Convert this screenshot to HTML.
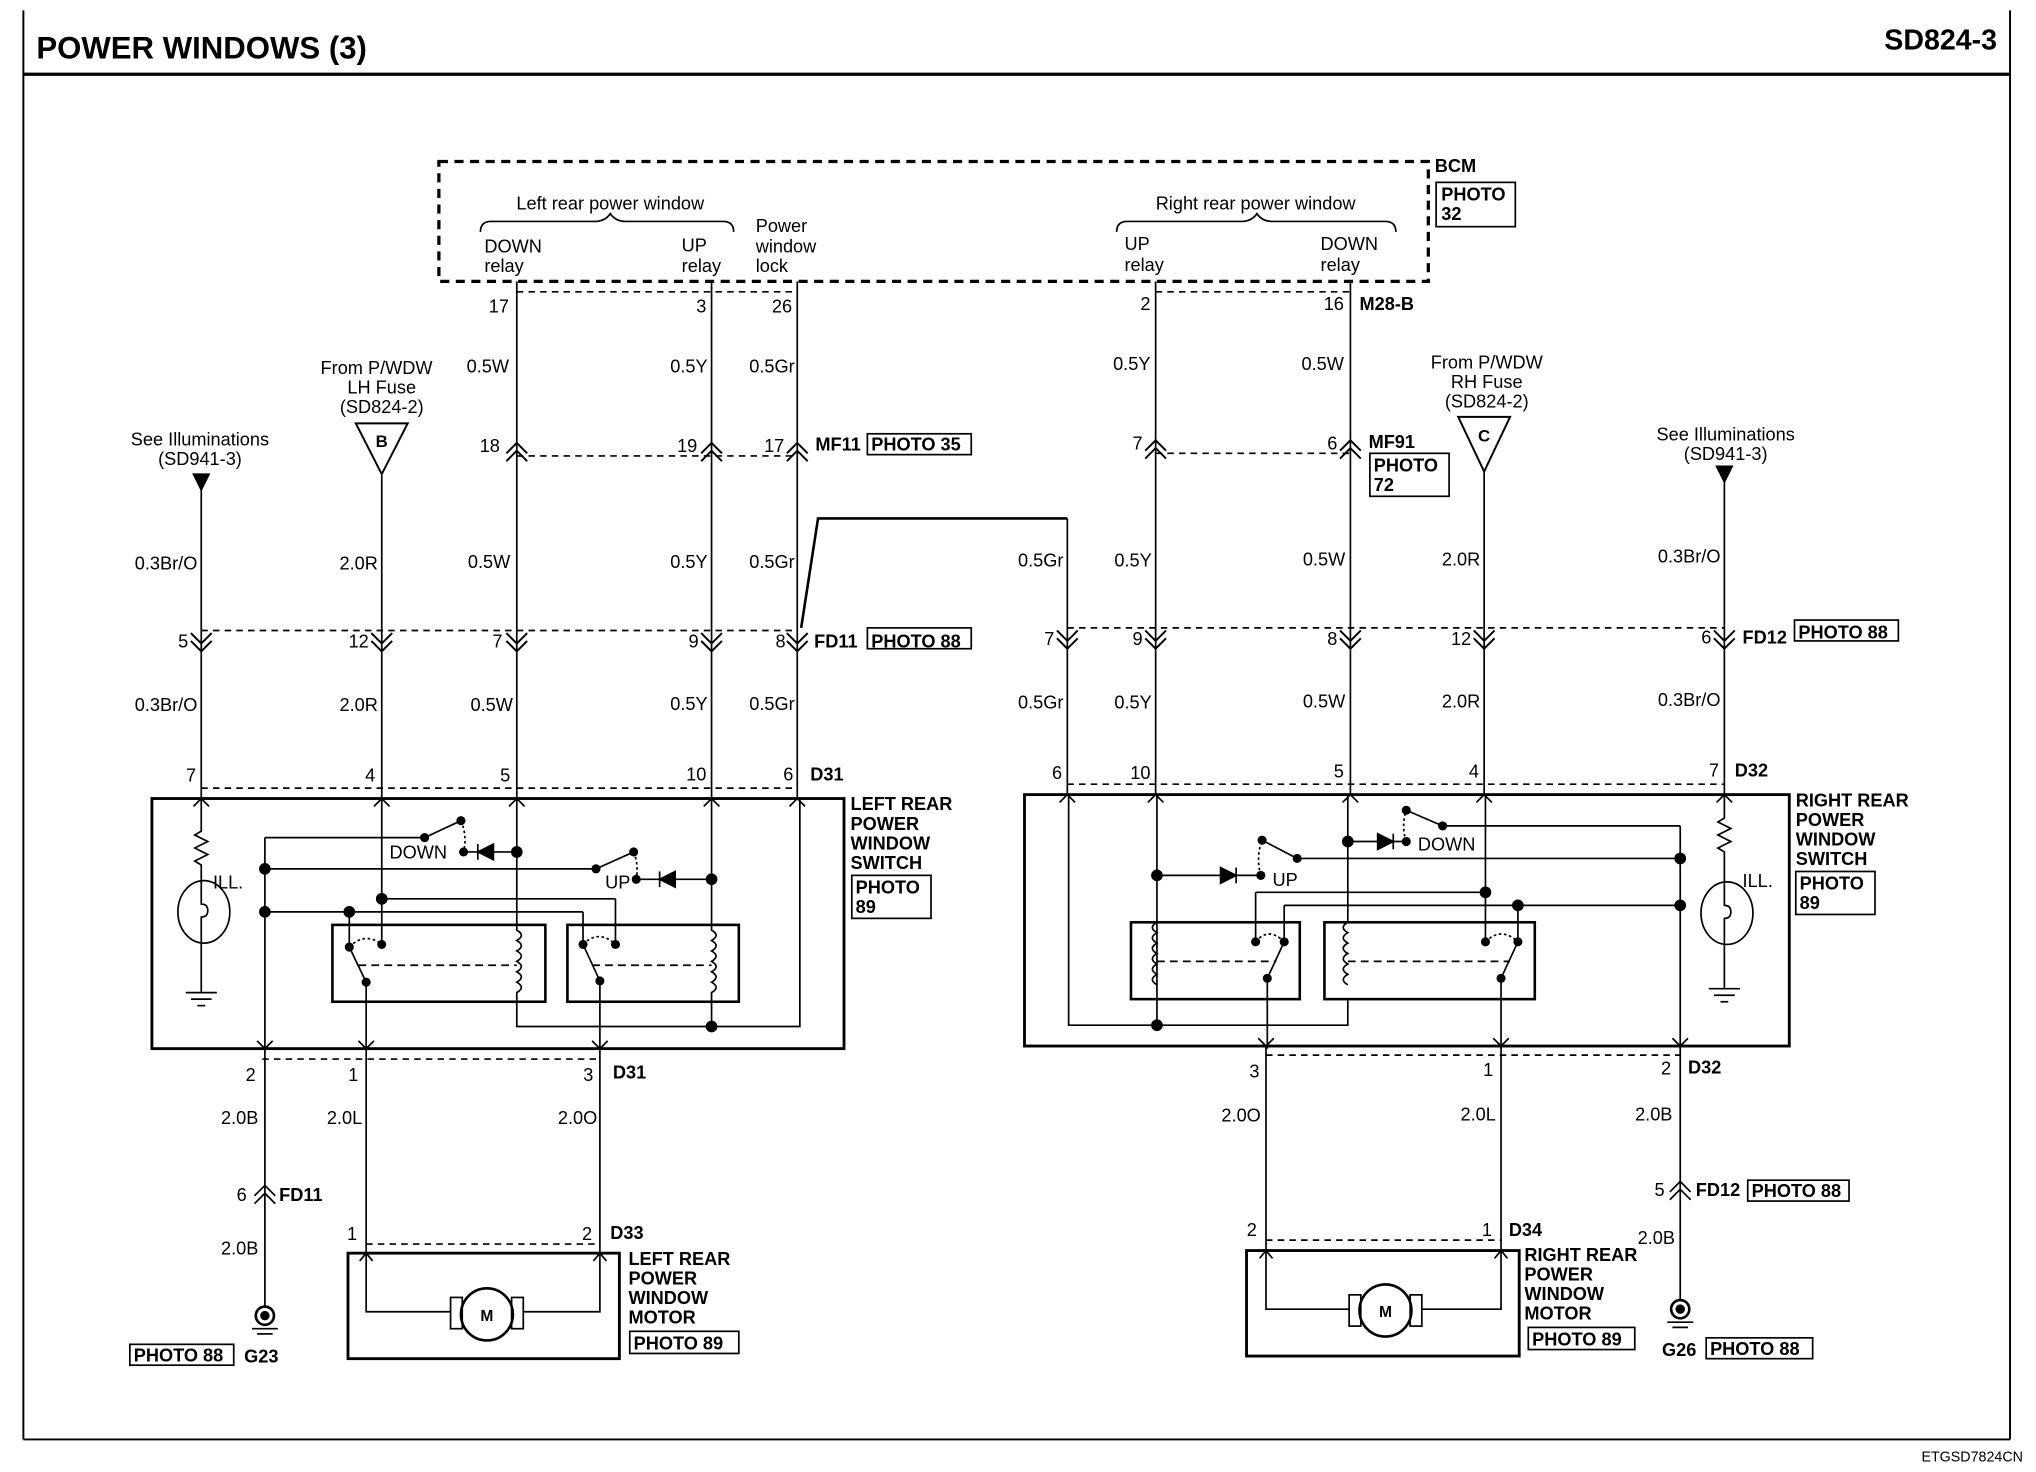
<!DOCTYPE html>
<html><head><meta charset="utf-8"><style>
html,body{margin:0;padding:0;background:#fff;}
svg{display:block;}
text{font-family:"Liberation Sans",sans-serif;fill:#000;}
</style></head><body>
<svg width="2036" height="1472" viewBox="0 0 1568 1130" preserveAspectRatio="none" xmlns="http://www.w3.org/2000/svg">
<g stroke="#000" fill="none" stroke-width="1.3">
<!-- frame -->
<line x1="18" y1="8" x2="18" y2="1105" stroke-width="1.5"/>
<line x1="18" y1="57" x2="1548" y2="57" stroke-width="2.5"/>
<line x1="18" y1="1105" x2="1548" y2="1105" stroke-width="1.5"/>
<line x1="1548" y1="8" x2="1548" y2="1105" stroke-width="1.5"/>
<!-- BCM -->
<rect x="338" y="124" width="762" height="92" stroke-dasharray="7,5" stroke-width="2.5"/>
<rect x="1106" y="140" width="61" height="34"/>
<path d="M370 178 q0 -8 8 -8 h80 q8 0 12 -6 q4 6 12 6 h75 q8 0 8 8"/>
<path d="M860 178 q0 -8 8 -8 h88 q8 0 12 -6 q4 6 12 6 h87 q8 0 8 8"/>
<line x1="398" y1="224" x2="614" y2="224" stroke-dasharray="5,4"/>
<line x1="890" y1="224" x2="1040" y2="224" stroke-dasharray="5,4"/>
<!-- left main wires -->
<line x1="398" y1="216" x2="398" y2="613"/>
<line x1="548" y1="216" x2="548" y2="613"/>
<line x1="614" y1="216" x2="614" y2="613"/>
<line x1="155" y1="372" x2="155" y2="613"/>
<line x1="294" y1="365" x2="294" y2="613"/>
<!-- right main wires -->
<line x1="890" y1="216" x2="890" y2="610"/>
<line x1="1040" y1="216" x2="1040" y2="610"/>
<line x1="822" y1="398" x2="822" y2="610"/>
<line x1="1143" y1="362" x2="1143" y2="610"/>
<line x1="1328" y1="368" x2="1328" y2="610"/>
<polyline points="617,482 630,398 822,398" stroke-width="2"/>
<path d="M149 364 L161 364 L155 376Z" fill="#000"/>
<path d="M1322 358 L1334 358 L1328 370Z" fill="#000"/>
<path d="M274 325 L314 325 L294 364Z" stroke-width="1.5"/>
<path d="M1123 320 L1163 320 L1143 362Z" stroke-width="1.5"/>
<!-- MF11 connector -->
<line x1="398" y1="350" x2="614" y2="350" stroke-dasharray="5,4"/>
<line x1="890" y1="348" x2="1040" y2="348" stroke-dasharray="5,4"/>
<g stroke-width="1.5">
<path d="M390 348 l8 -8 l8 8"/><path d="M390 354 l8 -8 l8 8"/>
<path d="M540 348 l8 -8 l8 8"/><path d="M540 354 l8 -8 l8 8"/>
<path d="M606 348 l8 -8 l8 8"/><path d="M606 354 l8 -8 l8 8"/>
<path d="M882 346 l8 -8 l8 8"/><path d="M882 352 l8 -8 l8 8"/>
<path d="M1032 346 l8 -8 l8 8"/><path d="M1032 352 l8 -8 l8 8"/>
</g>
<!-- FD connectors -->
<line x1="155" y1="484" x2="614" y2="484" stroke-dasharray="5,4"/>
<line x1="822" y1="482" x2="1328" y2="482" stroke-dasharray="5,4"/>
<g stroke-width="1.5">
<path d="M147 486 l8 8 l8 -8"/><path d="M147 492 l8 8 l8 -8"/>
<path d="M286 486 l8 8 l8 -8"/><path d="M286 492 l8 8 l8 -8"/>
<path d="M390 486 l8 8 l8 -8"/><path d="M390 492 l8 8 l8 -8"/>
<path d="M540 486 l8 8 l8 -8"/><path d="M540 492 l8 8 l8 -8"/>
<path d="M606 486 l8 8 l8 -8"/><path d="M606 492 l8 8 l8 -8"/>
<path d="M814 484 l8 8 l8 -8"/><path d="M814 490 l8 8 l8 -8"/>
<path d="M882 484 l8 8 l8 -8"/><path d="M882 490 l8 8 l8 -8"/>
<path d="M1032 484 l8 8 l8 -8"/><path d="M1032 490 l8 8 l8 -8"/>
<path d="M1135 484 l8 8 l8 -8"/><path d="M1135 490 l8 8 l8 -8"/>
<path d="M1320 484 l8 8 l8 -8"/><path d="M1320 490 l8 8 l8 -8"/>
</g>
<line x1="155" y1="605" x2="614" y2="605" stroke-dasharray="5,4"/>
<line x1="822" y1="602" x2="1328" y2="602" stroke-dasharray="5,4"/>
<g>
<path d="M149 619 l6 -6 l6 6"/><path d="M288 619 l6 -6 l6 6"/><path d="M392 619 l6 -6 l6 6"/><path d="M542 619 l6 -6 l6 6"/><path d="M608 619 l6 -6 l6 6"/>
<path d="M816 616 l6 -6 l6 6"/><path d="M884 616 l6 -6 l6 6"/><path d="M1034 616 l6 -6 l6 6"/><path d="M1137 616 l6 -6 l6 6"/><path d="M1322 616 l6 -6 l6 6"/>
</g>
<!-- switch boxes -->
<rect x="117" y="613" width="533" height="192" stroke-width="2.2"/>
<rect x="789" y="610" width="589" height="193" stroke-width="2.2"/>
<!-- LEFT internals -->
<path d="M155 613 V638 l-5 3 l10 5 l-10 5 l10 5 l-10 5 l5 3 V680"/>
<ellipse cx="157" cy="700" rx="20" ry="24"/>
<path d="M155 680 V694 q5 0 5 5 q0 5 -5 5 V762"/>
<line x1="143" y1="762" x2="167" y2="762"/><line x1="147" y1="767" x2="163" y2="767"/><line x1="152" y1="772" x2="158" y2="772"/>
<line x1="204" y1="643" x2="204" y2="805"/>
<line x1="204" y1="643" x2="327" y2="643"/>
<line x1="327" y1="643" x2="355" y2="630"/>
<path d="M355 630 q5 12 2 24" stroke-dasharray="2,2"/>
<line x1="357" y1="654" x2="398" y2="654"/>
<path d="M368 654 L380 648 L380 660Z" fill="#000"/><line x1="368" y1="648" x2="368" y2="660"/>
<line x1="204" y1="667" x2="459" y2="667"/>
<line x1="459" y1="667" x2="488" y2="654"/>
<path d="M488 654 q4 10 2 21" stroke-dasharray="2,2"/>
<line x1="490" y1="675" x2="548" y2="675"/>
<path d="M508 675 L520 669 L520 681Z" fill="#000"/><line x1="508" y1="669" x2="508" y2="681"/>
<line x1="294" y1="690" x2="474" y2="690"/><line x1="474" y1="690" x2="474" y2="725"/>
<line x1="294" y1="613" x2="294" y2="725"/>
<line x1="204" y1="700" x2="449" y2="700"/><line x1="449" y1="700" x2="449" y2="725"/>
<line x1="269" y1="700" x2="269" y2="727"/>
<rect x="256" y="710" width="164" height="59" stroke-width="2"/>
<rect x="437" y="710" width="132" height="59" stroke-width="2"/>
<path d="M269 727 l13 27 V805"/><path d="M269 727 q12 -12 25 -2" stroke-dasharray="2,2"/>
<path d="M449 725 l13 28 V805"/><path d="M449 725 q12 -12 25 0" stroke-dasharray="2,2"/>
<line x1="276" y1="741" x2="398" y2="741" stroke-dasharray="6,4"/>
<line x1="456" y1="741" x2="548" y2="741" stroke-dasharray="6,4"/>
<path d="M398 613 V714 q7 4 0 8 q7 4 0 8 q7 4 0 8 q7 4 0 8 q7 4 0 8 q7 4 0 8 V788 H616 V613"/>
<path d="M548 613 V714 q7 4 0 8 q7 4 0 8 q7 4 0 8 q7 4 0 8 q7 4 0 8 q7 4 0 8 V788"/>
<!-- RIGHT internals -->
<path d="M1328 610 V628 l-5 3 l10 5 l-10 5 l10 5 l-10 5 l5 3 V678"/>
<ellipse cx="1330" cy="701" rx="20" ry="24"/>
<path d="M1328 678 V695 q5 0 5 5 q0 5 -5 5 V759"/>
<line x1="1316" y1="759" x2="1340" y2="759"/><line x1="1320" y1="764" x2="1336" y2="764"/><line x1="1325" y1="769" x2="1331" y2="769"/>
<path d="M823 610 V787 H1038 V767"/>
<line x1="891" y1="610" x2="891" y2="787"/>
<line x1="891" y1="672" x2="971" y2="672"/>
<path d="M952 672 L940 666 L940 678Z" fill="#000"/><line x1="952" y1="666" x2="952" y2="678"/>
<path d="M971 672 q-4 -14 1 -27" stroke-dasharray="2,2"/>
<line x1="972" y1="645" x2="999" y2="659"/>
<line x1="999" y1="659" x2="1294" y2="659"/>
<line x1="1038" y1="646" x2="1083" y2="646"/>
<path d="M1073 646 L1061 640 L1061 652Z" fill="#000"/><line x1="1073" y1="640" x2="1073" y2="652"/>
<path d="M1083 646 q-4 -12 0 -24" stroke-dasharray="2,2"/>
<line x1="1083" y1="622" x2="1111" y2="634"/>
<line x1="1111" y1="634" x2="1294" y2="634"/>
<line x1="1294" y1="634" x2="1294" y2="805"/>
<line x1="1144" y1="610" x2="1144" y2="723"/>
<line x1="967" y1="685" x2="1144" y2="685"/><line x1="967" y1="685" x2="967" y2="723"/>
<line x1="989" y1="695" x2="1294" y2="695"/><line x1="989" y1="695" x2="989" y2="723"/>
<line x1="1169" y1="695" x2="1169" y2="723"/>
<rect x="871" y="708" width="130" height="59" stroke-width="2"/>
<rect x="1020" y="708" width="162" height="59" stroke-width="2"/>
<path d="M891 708 q-7 4 0 8 q-7 4 0 8 q-7 4 0 8 q-7 4 0 8 q-7 4 0 8 q-7 4 0 8"/>
<path d="M1038 708 q-7 4 0 8 q-7 4 0 8 q-7 4 0 8 q-7 4 0 8 q-7 4 0 8 q-7 4 0 8"/>
<line x1="1038" y1="610" x2="1038" y2="708"/>
<path d="M989 723 l-13 28 V805"/><path d="M967 723 q10 -12 22 0" stroke-dasharray="2,2"/>
<path d="M1169 723 l-13 28 V805"/><path d="M1144 723 q12 -12 25 0" stroke-dasharray="2,2"/>
<line x1="891" y1="738" x2="983" y2="738" stroke-dasharray="6,4"/>
<line x1="1038" y1="738" x2="1163" y2="738" stroke-dasharray="6,4"/>
<!-- left bottom -->
<line x1="202" y1="813" x2="463" y2="813" stroke-dasharray="5,4"/>
<path d="M198 799 l6 6 l6 -6"/><path d="M276 799 l6 6 l6 -6"/><path d="M456 799 l6 6 l6 -6"/>
<line x1="204" y1="805" x2="204" y2="1003"/>
<line x1="282" y1="805" x2="282" y2="962"/>
<line x1="462" y1="805" x2="462" y2="962"/>
<path d="M196 918 l8 -8 l8 8"/><path d="M196 924 l8 -8 l8 8"/>
<circle cx="204" cy="1010" r="7" stroke-width="2"/><circle cx="204" cy="1010" r="3" fill="#000"/>
<line x1="194" y1="1020" x2="214" y2="1020"/><line x1="198" y1="1024" x2="210" y2="1024"/>
<line x1="282" y1="955" x2="462" y2="955" stroke-dasharray="5,4"/>
<rect x="268" y="962" width="209" height="81" stroke-width="2.2"/>
<path d="M282 962 V1007 H347 M403 1007 H462 V962"/>
<path d="M277 968 l5 -6 l5 6 M457 968 l5 -6 l5 6"/>
<circle cx="375" cy="1009" r="20" stroke-width="2"/>
<rect x="347" y="996" width="9" height="24"/><rect x="394" y="996" width="9" height="24"/>
<!-- right bottom -->
<line x1="975" y1="810" x2="1294" y2="810" stroke-dasharray="5,4"/>
<path d="M969 797 l6 6 l6 -6"/><path d="M1150 797 l6 6 l6 -6"/><path d="M1288 797 l6 6 l6 -6"/>
<line x1="975" y1="803" x2="975" y2="960"/>
<line x1="1156" y1="803" x2="1156" y2="960"/>
<line x1="1294" y1="803" x2="1294" y2="998"/>
<path d="M1286 915 l8 -8 l8 8"/><path d="M1286 921 l8 -8 l8 8"/>
<circle cx="1294" cy="1005" r="7" stroke-width="2"/><circle cx="1294" cy="1005" r="3" fill="#000"/>
<line x1="1284" y1="1015" x2="1304" y2="1015"/><line x1="1288" y1="1019" x2="1300" y2="1019"/>
<line x1="975" y1="952" x2="1156" y2="952" stroke-dasharray="5,4"/>
<rect x="960" y="960" width="210" height="81" stroke-width="2.2"/>
<path d="M975 960 V1005 H1039 M1095 1005 H1156 V960"/>
<path d="M970 966 l5 -6 l5 6 M1151 966 l5 -6 l5 6"/>
<circle cx="1067" cy="1006" r="20" stroke-width="2"/>
<rect x="1039" y="994" width="9" height="24"/><rect x="1086" y="994" width="9" height="24"/>
<!-- photo boxes -->
<rect x="668" y="333" width="80" height="16"/>
<rect x="668" y="482" width="80" height="16"/>
<rect x="1055" y="348" width="61" height="33"/>
<rect x="1382" y="476" width="80" height="16"/>
<rect x="656" y="672" width="61" height="33"/>
<rect x="1383" y="669" width="61" height="33"/>
<rect x="100" y="1032" width="80" height="16"/>
<rect x="485" y="1022" width="84" height="17"/>
<rect x="1346" y="906" width="78" height="16"/>
<rect x="1177" y="1019" width="82" height="17"/>
<rect x="1314" y="1027" width="82" height="16"/>
<g fill="#000" stroke="none">
<circle cx="398" cy="654" r="4.5"/><circle cx="548" cy="675" r="4.5"/><circle cx="204" cy="667" r="4.5"/><circle cx="204" cy="700" r="4.5"/><circle cx="294" cy="690" r="4.5"/><circle cx="269" cy="700" r="4.5"/><circle cx="548" cy="788" r="4.5"/>
<circle cx="327" cy="643" r="3.5"/><circle cx="355" cy="630" r="3.5"/><circle cx="357" cy="654" r="3.5"/><circle cx="459" cy="667" r="3.5"/><circle cx="488" cy="654" r="3.5"/><circle cx="490" cy="675" r="3.5"/>
<circle cx="269" cy="727" r="3.5"/><circle cx="294" cy="725" r="3.5"/><circle cx="282" cy="754" r="3.5"/><circle cx="449" cy="725" r="3.5"/><circle cx="474" cy="725" r="3.5"/><circle cx="462" cy="753" r="3.5"/>
<circle cx="891" cy="672" r="4.5"/><circle cx="1038" cy="646" r="4.5"/><circle cx="1294" cy="659" r="4.5"/><circle cx="1294" cy="695" r="4.5"/><circle cx="1144" cy="685" r="4.5"/><circle cx="1169" cy="695" r="4.5"/><circle cx="891" cy="787" r="4.5"/>
<circle cx="971" cy="672" r="3.5"/><circle cx="972" cy="645" r="3.5"/><circle cx="999" cy="659" r="3.5"/><circle cx="1083" cy="646" r="3.5"/><circle cx="1083" cy="622" r="3.5"/><circle cx="1111" cy="634" r="3.5"/>
<circle cx="967" cy="723" r="3.5"/><circle cx="989" cy="723" r="3.5"/><circle cx="976" cy="751" r="3.5"/><circle cx="1144" cy="723" r="3.5"/><circle cx="1169" cy="723" r="3.5"/><circle cx="1156" cy="751" r="3.5"/>
</g>
</g>
<!-- TEXT -->
<text x="28" y="45" font-size="24" font-weight="bold">POWER WINDOWS (3)</text>
<text x="1538" y="38" font-size="22" font-weight="bold" text-anchor="end">SD824-3</text>
<text x="1558" y="1122" font-size="11" text-anchor="end">ETGSD7824CN</text>
<g font-size="14">
<text x="1105" y="132" font-weight="bold">BCM</text>
<text x="1110" y="154" font-weight="bold">PHOTO</text><text x="1110" y="169" font-weight="bold">32</text>
<text x="470" y="161" text-anchor="middle">Left rear power window</text>
<text x="967" y="161" text-anchor="middle">Right rear power window</text>
<text x="373" y="194">DOWN</text><text x="373" y="209">relay</text>
<text x="525" y="193">UP</text><text x="525" y="209">relay</text>
<text x="582" y="178">Power</text><text x="582" y="194">window</text><text x="582" y="209">lock</text>
<text x="866" y="192">UP</text><text x="866" y="208">relay</text>
<text x="1017" y="192">DOWN</text><text x="1017" y="208">relay</text>
<text x="392" y="240" text-anchor="end">17</text><text x="544" y="240" text-anchor="end">3</text><text x="610" y="240" text-anchor="end">26</text>
<text x="886" y="238" text-anchor="end">2</text><text x="1035" y="238" text-anchor="end">16</text>
<text x="1047" y="238" font-weight="bold">M28-B</text>
<text x="392" y="286" text-anchor="end">0.5W</text><text x="545" y="286" text-anchor="end">0.5Y</text><text x="612" y="286" text-anchor="end">0.5Gr</text>
<text x="886" y="284" text-anchor="end">0.5Y</text><text x="1035" y="284" text-anchor="end">0.5W</text>
<text x="290" y="287" text-anchor="middle">From P/WDW</text><text x="294" y="302" text-anchor="middle">LH Fuse</text><text x="294" y="317" text-anchor="middle">(SD824-2)</text>
<text x="1145" y="283" text-anchor="middle">From P/WDW</text><text x="1145" y="298" text-anchor="middle">RH Fuse</text><text x="1145" y="313" text-anchor="middle">(SD824-2)</text>
<text x="294" y="343" text-anchor="middle" font-weight="bold" font-size="13">B</text>
<text x="1143" y="339" text-anchor="middle" font-weight="bold" font-size="13">C</text>
<text x="154" y="342" text-anchor="middle">See Illuminations</text><text x="154" y="357" text-anchor="middle">(SD941-3)</text>
<text x="1329" y="338" text-anchor="middle">See Illuminations</text><text x="1329" y="353" text-anchor="middle">(SD941-3)</text>
<text x="385" y="347" text-anchor="end">18</text><text x="537" y="347" text-anchor="end">19</text><text x="604" y="347" text-anchor="end">17</text>
<text x="628" y="346" font-weight="bold">MF11</text><text x="671" y="346" font-weight="bold">PHOTO 35</text>
<text x="880" y="345" text-anchor="end">7</text><text x="1030" y="345" text-anchor="end">6</text>
<text x="1054" y="344" font-weight="bold">MF91</text>
<text x="1058" y="362" font-weight="bold">PHOTO</text><text x="1058" y="377" font-weight="bold">72</text>
<text x="152" y="437" text-anchor="end">0.3Br/O</text><text x="291" y="437" text-anchor="end">2.0R</text><text x="393" y="436" text-anchor="end">0.5W</text><text x="545" y="436" text-anchor="end">0.5Y</text><text x="612" y="436" text-anchor="end">0.5Gr</text>
<text x="819" y="435" text-anchor="end">0.5Gr</text><text x="887" y="435" text-anchor="end">0.5Y</text><text x="1036" y="434" text-anchor="end">0.5W</text><text x="1140" y="434" text-anchor="end">2.0R</text><text x="1325" y="432" text-anchor="end">0.3Br/O</text>
<text x="145" y="497" text-anchor="end">5</text><text x="284" y="497" text-anchor="end">12</text><text x="387" y="497" text-anchor="end">7</text><text x="538" y="497" text-anchor="end">9</text><text x="605" y="497" text-anchor="end">8</text>
<text x="627" y="497" font-weight="bold">FD11</text><text x="671" y="497" font-weight="bold">PHOTO 88</text>
<text x="812" y="495" text-anchor="end">7</text><text x="880" y="495" text-anchor="end">9</text><text x="1030" y="495" text-anchor="end">8</text><text x="1133" y="495" text-anchor="end">12</text><text x="1318" y="494" text-anchor="end">6</text>
<text x="1342" y="494" font-weight="bold">FD12</text><text x="1385" y="490" font-weight="bold">PHOTO 88</text>
<text x="152" y="546" text-anchor="end">0.3Br/O</text><text x="291" y="546" text-anchor="end">2.0R</text><text x="395" y="546" text-anchor="end">0.5W</text><text x="545" y="545" text-anchor="end">0.5Y</text><text x="612" y="545" text-anchor="end">0.5Gr</text>
<text x="819" y="544" text-anchor="end">0.5Gr</text><text x="887" y="544" text-anchor="end">0.5Y</text><text x="1036" y="543" text-anchor="end">0.5W</text><text x="1140" y="543" text-anchor="end">2.0R</text><text x="1325" y="542" text-anchor="end">0.3Br/O</text>
<text x="151" y="600" text-anchor="end">7</text><text x="289" y="600" text-anchor="end">4</text><text x="393" y="600" text-anchor="end">5</text><text x="544" y="599" text-anchor="end">10</text><text x="611" y="599" text-anchor="end">6</text>
<text x="624" y="599" font-weight="bold">D31</text>
<text x="818" y="598" text-anchor="end">6</text><text x="886" y="598" text-anchor="end">10</text><text x="1035" y="597" text-anchor="end">5</text><text x="1139" y="597" text-anchor="end">4</text><text x="1324" y="596" text-anchor="end">7</text>
<text x="1336" y="596" font-weight="bold">D32</text>
<g font-weight="bold">
<text x="655" y="622">LEFT REAR</text><text x="655" y="637">POWER</text><text x="655" y="652">WINDOW</text><text x="655" y="667">SWITCH</text>
<text x="659" y="686">PHOTO</text><text x="659" y="701">89</text>
<text x="1383" y="619">RIGHT REAR</text><text x="1383" y="634">POWER</text><text x="1383" y="649">WINDOW</text><text x="1383" y="664">SWITCH</text>
<text x="1386" y="683">PHOTO</text><text x="1386" y="698">89</text>
</g>
<text x="300" y="659">DOWN</text><text x="466" y="682">UP</text><text x="164" y="682">ILL.</text>
<text x="1092" y="653">DOWN</text><text x="980" y="680">UP</text><text x="1342" y="681">ILL.</text>
<text x="197" y="830" text-anchor="end">2</text><text x="276" y="830" text-anchor="end">1</text><text x="457" y="830" text-anchor="end">3</text>
<text x="472" y="828" font-weight="bold">D31</text>
<text x="970" y="827" text-anchor="end">3</text><text x="1150" y="826" text-anchor="end">1</text><text x="1287" y="825" text-anchor="end">2</text>
<text x="1300" y="824" font-weight="bold">D32</text>
<text x="199" y="863" text-anchor="end">2.0B</text><text x="279" y="863" text-anchor="end">2.0L</text><text x="460" y="863" text-anchor="end">2.0O</text>
<text x="971" y="861" text-anchor="end">2.0O</text><text x="1152" y="860" text-anchor="end">2.0L</text><text x="1288" y="860" text-anchor="end">2.0B</text>
<text x="190" y="922" text-anchor="end">6</text><text x="215" y="922" font-weight="bold">FD11</text>
<text x="1282" y="918" text-anchor="end">5</text><text x="1306" y="918" font-weight="bold">FD12</text><text x="1349" y="919" font-weight="bold">PHOTO 88</text>
<text x="199" y="963" text-anchor="end">2.0B</text><text x="1290" y="955" text-anchor="end">2.0B</text>
<text x="275" y="952" text-anchor="end">1</text><text x="456" y="952" text-anchor="end">2</text><text x="470" y="951" font-weight="bold">D33</text>
<text x="968" y="949" text-anchor="end">2</text><text x="1149" y="949" text-anchor="end">1</text><text x="1162" y="949" font-weight="bold">D34</text>
<g font-weight="bold">
<text x="484" y="971">LEFT REAR</text><text x="484" y="986">POWER</text><text x="484" y="1001">WINDOW</text><text x="484" y="1016">MOTOR</text>
<text x="488" y="1036">PHOTO 89</text>
<text x="1174" y="968">RIGHT REAR</text><text x="1174" y="983">POWER</text><text x="1174" y="998">WINDOW</text><text x="1174" y="1013">MOTOR</text>
<text x="1180" y="1033">PHOTO 89</text>
<text x="103" y="1045">PHOTO 88</text><text x="188" y="1046">G23</text>
<text x="1280" y="1041">G26</text><text x="1317" y="1040">PHOTO 88</text>
<text x="375" y="1014" text-anchor="middle" font-size="12">M</text>
<text x="1067" y="1011" text-anchor="middle" font-size="12">M</text>
</g>
</g>
</svg>
</body></html>
